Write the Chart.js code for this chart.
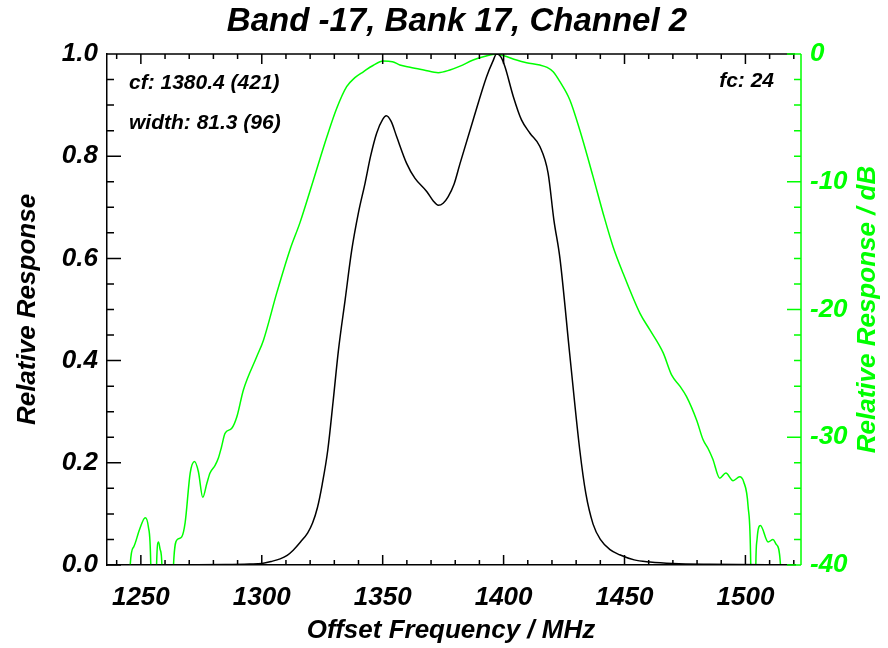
<!DOCTYPE html>
<html>
<head>
<meta charset="utf-8">
<script src="https://cdn.jsdelivr.net/npm/chart.js@4.4.1/dist/chart.umd.min.js"></script>
<style>
  html, body { margin: 0; padding: 0; background: #fff; }
  #wrap { width: 888px; height: 648px; }
</style>
</head>
<body>
<div id="wrap"><canvas id="chart" width="888" height="648"></canvas></div>
<script>
const FONT = '"Liberation Sans", Arial, sans-serif';
const GREEN = '#00ff00';

const chartTitle = 'Band -17, Bank 17, Channel 2';
const xTitle = 'Offset Frequency / MHz';
const yTitle = 'Relative Response';
const y2Title = 'Relative Response / dB';
const notesLeft = ['cf: 1380.4 (421)', 'width: 81.3 (96)'];
const noteRight = 'fc: 24';

const xRange = [1236, 1520.5];
const xTickValues = [1250, 1300, 1350, 1400, 1450, 1500];
const yRange = [0, 1];
const dbRange = [-40, 0];

// linear response (black, left axis)
const blackFreq = [1236, 1270, 1285, 1295, 1300, 1304, 1307.6, 1310.5, 1313, 1316,
  1319, 1321, 1323, 1325, 1327.3, 1329.5, 1331.7, 1334.5, 1337.2, 1340, 1342.7,
  1345, 1347.5, 1350, 1351.5, 1353.5, 1355.8, 1359.9, 1363.3, 1368.2, 1371,
  1373, 1375, 1377.1, 1379.5, 1382, 1387.4, 1393, 1395.5, 1397.1, 1398.8,
  1400.5, 1404, 1407.4, 1410.9, 1415, 1418.4, 1420.8, 1423.3, 1427.4, 1431.5,
  1434, 1437, 1440, 1444, 1448, 1454, 1460.5, 1470, 1485, 1520.5];
const blackResp = [0, 0.0005, 0.001, 0.002, 0.003, 0.007, 0.012, 0.019, 0.029, 0.045,
  0.063, 0.082, 0.112, 0.158, 0.225, 0.32, 0.42, 0.52, 0.616, 0.69, 0.747,
  0.80, 0.845, 0.872, 0.879, 0.868, 0.838, 0.786, 0.757, 0.731, 0.712,
  0.704, 0.708, 0.721, 0.745, 0.786, 0.871, 0.956, 0.985, 1.0, 0.995,
  0.976, 0.917, 0.871, 0.845, 0.819, 0.767, 0.675, 0.60, 0.41, 0.225,
  0.14, 0.08, 0.05, 0.03, 0.02, 0.01, 0.006, 0.003, 0.0015, 0.0005];

// response in dB (green, right axis)
const greenFreq = [1245.0, 1245.6, 1247.0, 1249.5, 1251.8, 1253.1, 1254.1, 1254.6, 1256.0, 1256.5,
  1257.3, 1258.0, 1258.7, 1259.2, 1263.0, 1263.5, 1265.1, 1266.9, 1268.3, 1270.4,
  1272.2, 1273.8, 1275.6, 1277.3, 1278.6, 1280.7, 1282.1, 1283.3, 1284.8, 1287.6,
  1289.7, 1292.4, 1297.9, 1300.7, 1306.2, 1311.7, 1315.8, 1321.3, 1326.9, 1331.0,
  1335.1, 1338.5, 1342.0, 1346.0, 1350.2, 1354.0, 1357.1, 1361.3, 1367.0, 1373.0,
  1377.8, 1382.0, 1387.4, 1392.0, 1397.1, 1401.2, 1405.0, 1409.5, 1415.0, 1418.0,
  1420.5, 1423.3, 1427.4, 1431.5, 1437.0, 1441.2, 1445.3, 1449.5, 1456.4, 1460.5,
  1466.0, 1469.4, 1472.9, 1475.6, 1479.8, 1482.5, 1484.6, 1486.5, 1489.4, 1491.9,
  1494.9, 1497.6, 1499.3, 1501.1, 1502.2, 1502.6, 1503.9, 1504.3, 1504.8, 1506.2,
  1509.4, 1511.4, 1512.8, 1514.5, 1515.0];
const greenDb = [-48, -40, -38.6, -37.2, -36.3, -37.0, -40, -48, -48, -40,
  -38.2, -38.8, -40, -48, -48, -40, -38.0, -37.8, -36.7, -32.8,
  -31.9, -32.7, -34.7, -33.6, -32.8, -32.2, -31.6, -30.8, -29.7, -29.3,
  -28.4, -26.3, -23.7, -22.4, -18.7, -15.3, -13.2, -9.9, -6.5, -4.25,
  -2.56, -1.85, -1.39, -0.9, -0.55, -0.6, -0.86, -1.04, -1.25, -1.46,
  -1.25, -0.95, -0.47, -0.2, 0, -0.2, -0.45, -0.68, -0.86, -1.05,
  -1.39, -2.17, -3.6, -5.95, -9.6, -12.5, -15.1, -17.2, -20.3, -21.6,
  -23.4, -25.1, -26.0, -26.8, -28.65, -30.2, -30.9, -31.7, -33.2, -32.8,
  -33.4, -33.1, -33.5, -35.4, -40, -48, -48, -40, -38.0, -36.9,
  -38.2, -38.0, -38.4, -40, -48];

const font = (size) => ({ family: FONT, size: size, weight: 'bold', style: 'italic', lineHeight: 1.2 });

// IDL-style frame: top axis, inward ticks, offset green axis, notes
const idlFrame = {
  id: 'idlFrame',
  afterDraw(chart) {
    const { ctx, chartArea: a } = chart;
    const { x, y, y2 } = chart.scales;
    ctx.save();
    ctx.lineWidth = 1.5;
    ctx.strokeStyle = '#000';
    ctx.beginPath();
    ctx.moveTo(a.left, a.top);
    ctx.lineTo(a.right, a.top);
    for (let f = 1240; f <= xRange[1]; f += 10) {
      const px = x.getPixelForValue(f);
      const len = f % 50 === 0 ? 10 : 5;
      ctx.moveTo(px, a.bottom);
      ctx.lineTo(px, a.bottom - len);
      ctx.moveTo(px, a.top);
      ctx.lineTo(px, a.top + len);
    }
    for (let i = 0; i <= 20; i++) {
      const py = y.getPixelForValue(i * 0.05);
      const len = i % 4 === 0 ? 14 : 7;
      ctx.moveTo(a.left, py);
      ctx.lineTo(a.left + len, py);
    }
    ctx.stroke();

    const gx = a.right + 6;
    ctx.strokeStyle = GREEN;
    ctx.beginPath();
    ctx.moveTo(gx, a.top);
    ctx.lineTo(gx, a.bottom);
    for (let d = dbRange[0]; d <= dbRange[1]; d += 2) {
      const py = y2.getPixelForValue(d);
      const len = d % 10 === 0 ? 14 : 7;
      ctx.moveTo(gx, py);
      ctx.lineTo(gx - len, py);
    }
    ctx.stroke();

    ctx.font = 'italic bold 26px ' + FONT;
    ctx.fillStyle = GREEN;
    ctx.textAlign = 'center';
    ctx.textBaseline = 'middle';
    ctx.translate(868, (a.top + a.bottom) / 2);
    ctx.rotate(-Math.PI / 2);
    ctx.fillText(y2Title, 0, 0);
    ctx.restore();

    ctx.save();
    ctx.font = 'italic bold 21px ' + FONT;
    ctx.fillStyle = '#000';
    ctx.textBaseline = 'middle';
    ctx.textAlign = 'left';
    ctx.fillText(notesLeft[0], 129, 83);
    ctx.fillText(notesLeft[1], 129, 123);
    ctx.textAlign = 'right';
    ctx.fillText(noteRight, 774, 81);
    ctx.restore();
  }
};

new Chart(document.getElementById('chart'), {
  type: 'line',
  data: {
    datasets: [
      {
        label: 'Relative Response',
        data: blackFreq.map((f, i) => ({ x: f, y: blackResp[i] })),
        yAxisID: 'y',
        borderColor: '#000',
        borderWidth: 1.5,
        pointRadius: 0,
        cubicInterpolationMode: 'monotone',
        clip: 0
      },
      {
        label: 'Relative Response / dB',
        data: greenFreq.map((f, i) => ({ x: f, y: greenDb[i] })),
        yAxisID: 'y2',
        borderColor: GREEN,
        borderWidth: 1.5,
        pointRadius: 0,
        cubicInterpolationMode: 'monotone',
        clip: 0
      }
    ]
  },
  options: {
    responsive: false,
    animation: false,
    layout: { padding: { left: 26, right: 0, top: 0, bottom: 0 } },
    plugins: {
      legend: { display: false },
      tooltip: { enabled: false },
      title: {
        display: true,
        text: chartTitle,
        color: '#000',
        font: font(33),
        padding: { top: 2, bottom: 12.4 }
      }
    },
    scales: {
      x: {
        type: 'linear',
        position: 'bottom',
        min: xRange[0],
        max: xRange[1],
        afterBuildTicks: (s) => { s.ticks = xTickValues.map(v => ({ value: v })); },
        afterFit: (s) => { s.height = 83; },
        grid: { display: false, drawTicks: false },
        border: { display: true, color: '#000', width: 1.5 },
        ticks: { color: '#000', font: font(26), padding: 17, maxRotation: 0, callback: (v) => String(v) },
        title: { display: true, text: xTitle, color: '#000', font: font(26), padding: { top: 0, bottom: 2 } }
      },
      y: {
        type: 'linear',
        position: 'left',
        min: yRange[0],
        max: yRange[1],
        afterFit: (s) => { s.width = 81; },
        grid: { display: false, drawTicks: false },
        border: { display: true, color: '#000', width: 1.5 },
        ticks: { stepSize: 0.2, color: '#000', font: font(26), padding: 9, callback: (v) => v.toFixed(1) },
        title: { display: true, text: yTitle, color: '#000', font: font(26), padding: { top: -13.6, bottom: 0 } }
      },
      y2: {
        type: 'linear',
        position: 'right',
        min: dbRange[0],
        max: dbRange[1],
        afterFit: (s) => { s.width = 93; },
        grid: { display: false, drawTicks: false },
        border: { display: false },
        ticks: { stepSize: 10, color: GREEN, font: font(26), padding: 15 }
      }
    }
  },
  plugins: [idlFrame]
});
</script>
</body>
</html>
